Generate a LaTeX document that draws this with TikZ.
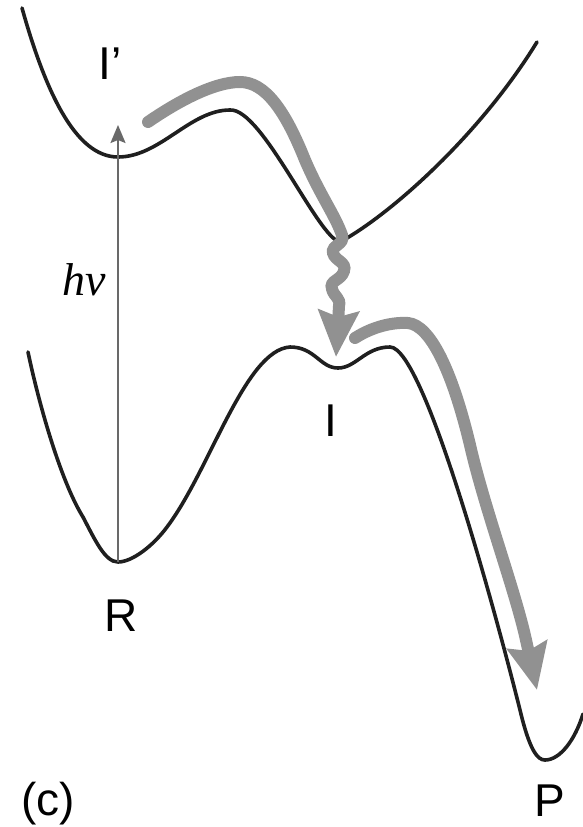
\documentclass[tikz,border=0pt]{standalone}
\usepackage{fontspec}
\setmainfont{Liberation Sans}
\newfontfamily\hvfont{Liberation Serif}
\usetikzlibrary{arrows.meta}

\definecolor{pathgray}{RGB}{145,145,145}
\definecolor{beamgray}{RGB}{105,105,105}

\begin{document}
\begin{tikzpicture}[x=1pt, y=-1pt,
  pes/.style={line width=3.6pt, black!88, line cap=round},
  relax/.style={line width=12pt, pathgray, line cap=round,
    -{Stealth[length=46pt, width=40pt, inset=6pt]}},
  excite/.style={line width=2pt, beamgray,
    -{Stealth[length=18pt, width=15pt, inset=3pt]}},
  lbl/.style={font=\fontsize{46}{46}\selectfont, inner sep=0pt}
]
\useasboundingbox (0,0) rectangle (583,827);
% === Excited-state surface (I') ===
\draw[pes] (22,8) .. controls (45,90) and (75,157) .. (118,157)
  .. controls (160,157) and (190,110) .. (230,110)
  .. controls (262,108) and (318,238) .. (340,242)
  .. controls (390,215) and (480,135) .. (537,42);
% === Ground-state surface (R, I, P) ===
\draw[pes] (28,352) .. controls (38,400) and (60,480) .. (83,517)
  .. controls (95,540) and (105,562) .. (118,562)
  .. controls (132,562) and (153,546) .. (167,527)
  .. controls (210,470) and (245,350) .. (290,347)
  .. controls (315,347) and (320,368) .. (338,368)
  .. controls (356,368) and (365,347) .. (390,347)
  .. controls (425,347) and (500,630) .. (520,710)
  .. controls (530,752) and (538,760) .. (545,760)
  .. controls (560,760) and (575,740) .. (583,714);
% === Vertical excitation ===
\coordinate (Rmin) at (118,562);
\coordinate (Fc) at (118,125);
\draw[excite] (Rmin) -- (Fc);
% === Relaxation paths ===
\draw[relax] (148,122) .. controls (180,100) and (215,82) .. (240,82)
  .. controls (265,82) and (285,110) .. (305,160)
  .. controls (320,195) and (335,215) .. (342,235)
  .. controls (345,245) and (331,245) .. (333,253)
  .. controls (335,261) and (347,262) .. (344,271)
  .. controls (341,281) and (329,280) .. (332,289)
  .. controls (334,297) and (341,298) .. (339,306) -- (336,357);
\draw[relax] (355,338) .. controls (372,327) and (392,322) .. (408,323)
  .. controls (430,325) and (452,370) .. (470,445)
  .. controls (485,510) and (515,590) .. (526,640) -- (537,690);
% === Labels ===
\node[lbl] (lIp) at (110,64) {I’};
\node[lbl, font=\hvfont\fontsize{46}{46}\selectfont\itshape] (lhv) at (84,280) {hν};
\node[lbl] (lI) at (331,421) {I};
\node[lbl] (lR) at (121,616) {R};
\node[lbl] (lP) at (550,801) {P};
\node[lbl] (lc) at (48,804) {(c)};
\end{tikzpicture}
\end{document}
